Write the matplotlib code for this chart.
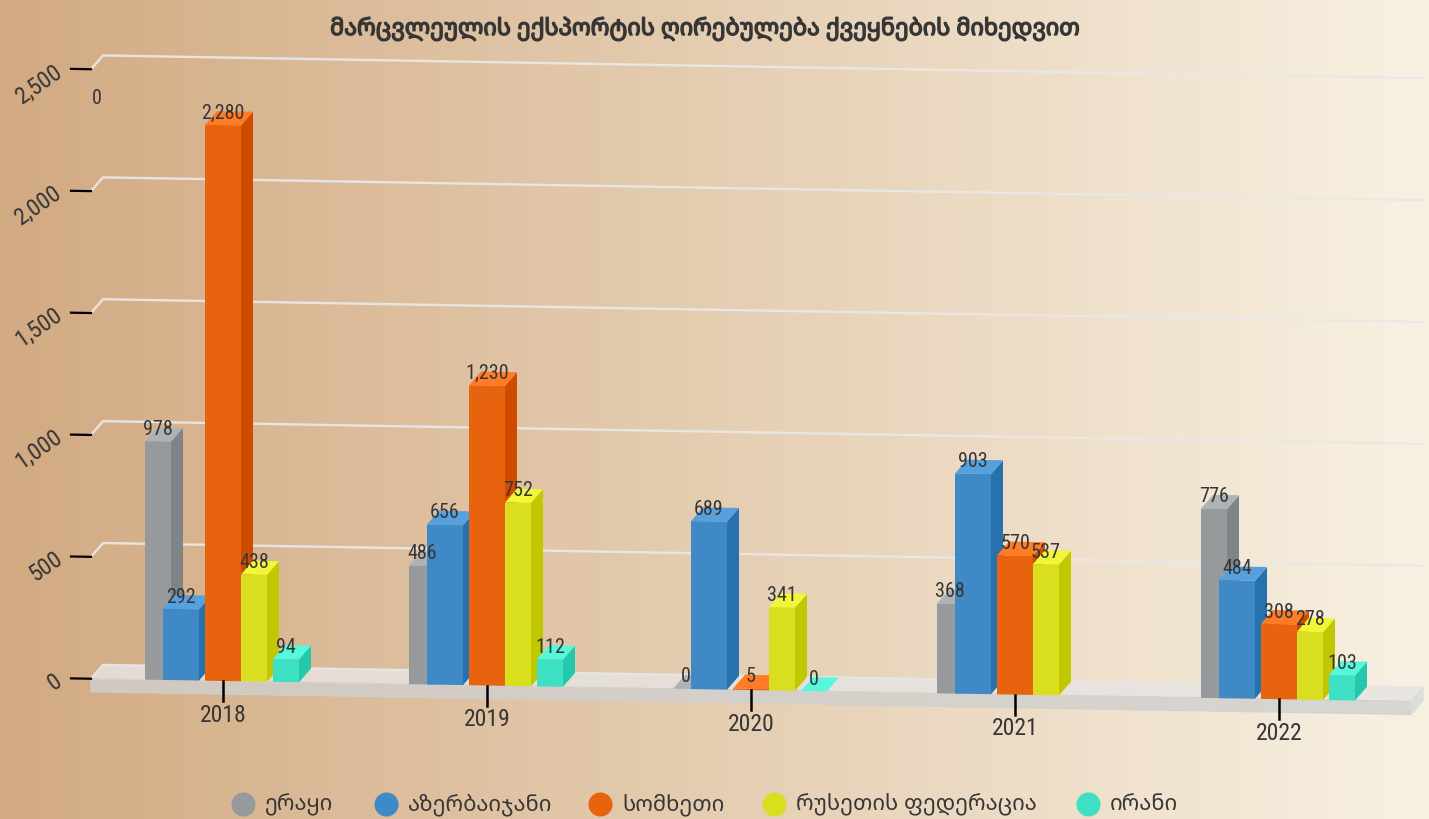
import numpy as np
import matplotlib
matplotlib.use("Agg")
import matplotlib.pyplot as plt
import matplotlib.patheffects as pe
from matplotlib.transforms import Affine2D

# მონაცემები
years = ["2018", "2019", "2020", "2021", "2022"]
iraq = [978, 486, 0, 368, 776]
azerbaijan = [292, 656, 689, 903, 484]
armenia = [2280, 1230, 5, 570, 308]
russia = [438, 752, 341, 537, 278]
iran = [94, 112, 0, None, 103]
y_ticks = [0, 500, 1000, 1500, 2000, 2500]
series_names = ["ერაყი", "აზერბაიჯანი", "სომხეთი", "რუსეთის ფედერაცია", "ირანი"]
title = "მარცვლეულის ექსპორტის ღირებულება ქვეყნების მიხედვით"

W, H = 1429, 819
X0, STEP = 223, 264      # px of first category, px per category
Y0, SCALE = 681, 0.2438  # px of value 0, px per value unit
SLOPE = 0.0172           # the whole plot leans down to the right
DX, DY = 12, 14          # depth of the 3d effect, px

NUM_FONT = ["Roboto Condensed", "Roboto", "DejaVu Sans"]
GEO_FONT = ["Noto Sans Georgian", "DejaVu Sans"]
TEXT = "#363636"

fig = plt.figure(figsize=(W / 100, H / 100), dpi=100)

# background gradient
bg = fig.add_axes([0, 0, 1, 1], zorder=0)
ramp = np.zeros((2, 512, 3))
left = np.array([0xd2, 0xaa, 0x82]) / 255
right = np.array([0xf8, 0xf1, 0xe2]) / 255
for c in range(3):
    ramp[:, :, c] = np.linspace(left[c], right[c], 512)
bg.imshow(ramp, aspect="auto", extent=[0, 1, 0, 1])
bg.axis("off")

ax = fig.add_axes([0, 0, 1, 1], zorder=1)
ax.patch.set_visible(False)
ax.axis("off")
ax.set_xlim(-X0 / STEP, (W - X0) / STEP)
ax.set_ylim(-(H - Y0) / SCALE, Y0 / SCALE)
ax.set_autoscale_on(False)

k = SLOPE * STEP / SCALE
lean = Affine2D(np.array([[1, 0, 0], [-k, 1, 0], [0, 0, 1]], dtype=float)) + ax.transData


def px_x(p):
    return p / STEP


def px_y(p):
    return p / SCALE


dx, dy = px_x(DX), px_y(DY)

# floor slab
fl, fr = -0.5, 4.5
slab = px_y(13)
ax.fill([fl, fl + dx, fr + dx, fr], [0, dy, dy, 0], transform=lean,
        color="#e7e4e2", alpha=0.84, lw=1, zorder=2)
ax.fill([fl, fr, fr, fl], [0, 0, -slab, -slab], transform=lean,
        color="#d0d0ce", alpha=0.8, lw=1, zorder=2)
ax.fill([fr, fr + dx, fr + dx, fr], [0, dy, dy - slab, -slab], transform=lean,
        color="#dcdcd8", alpha=0.9, lw=1, zorder=2)

# gridlines and value ticks
for v in y_ticks:
    ax.plot([fl, fl + dx, fr + dx], [v, v + dy, v + dy], transform=lean,
            color="#e8e8e6", lw=1.7, alpha=0.95, zorder=1.5)
    ax.plot([fl - px_x(20), fl], [v, v], transform=lean, color="black", lw=1.6, zorder=2.5)
    ax.text(fl - px_x(31), v - k * fl, f"{v:,}", rotation=35, rotation_mode="anchor",
            ha="right", va="center", fontsize=17, color=TEXT, family=NUM_FONT)

# category ticks
for i, year in enumerate(years):
    ax.plot([i, i], [0, -px_y(20)], transform=lean, color="black", lw=1.8, zorder=50)
    ax.text(i, -px_y(34) - k * i, year, ha="center", va="center",
            fontsize=17, color=TEXT, family=NUM_FONT)

series = [iraq, azerbaijan, armenia, russia, iran]
offsets = [-78, -60, -18, 18, 50]
widths = [26, 36, 36, 26, 26]
front_colors = ["#969a9d", "#3f8ac6", "#e7630d", "#d9df1f", "#3de0c3"]
side_colors = ["#818486", "#2772ae", "#cf4b00", "#c1c700", "#25c8ab"]
top_colors = ["#aeb2b5", "#56a1dd", "#ff7b25", "#f1f737", "#55f8db"]

z = 10
for s, values in enumerate(series):
    w = px_x(widths[s])
    for i, v in enumerate(values):
        if v is None:
            continue
        x = i + px_x(offsets[s])
        if v > 0:
            ax.fill([x + w, x + w + dx, x + w + dx, x + w], [0, dy, v + dy, v],
                    transform=lean, color=side_colors[s], lw=0, zorder=z)
        ax.fill([x, x + w, x + w + dx, x + dx], [v, v, v + dy, v + dy],
                transform=lean, color=top_colors[s], lw=0, zorder=z)
        if v > 0:
            ax.bar(x, v, w, align="edge", transform=lean, color=front_colors[s],
                   lw=0, zorder=z)
        ax.text(x + w / 2, v + px_y(12), f"{v:,}", transform=lean, ha="center", va="center",
                fontsize=14.5, color=TEXT, family=NUM_FONT, zorder=100)
        z += 1

# iran 2021 has no bar, its label ended up in the corner
fig.text(97 / W, 1 - 98 / H, "0", ha="center", va="center", fontsize=14.5,
         color=TEXT, family=NUM_FONT)

# the georgian font has only one weight, so thicken it with a stroke
fig.text(705 / W, 1 - 29 / H, title, ha="center", va="center", fontsize=16.8,
         color=TEXT, family=GEO_FONT,
         path_effects=[pe.withStroke(linewidth=1.0, foreground=TEXT)])

# legend
marker_px = [243, 386, 600, 774, 1088]
for name, col, mx in zip(series_names, front_colors, marker_px):
    ax.scatter([(mx - X0) / STEP], [(Y0 - 804) / SCALE], s=300, color=col, lw=0, zorder=100)
    fig.text((mx + 22) / W, 1 - 805 / H, name, ha="left", va="center", fontsize=15.8,
             color=TEXT, family=GEO_FONT)

plt.savefig("out.png", dpi=100)
